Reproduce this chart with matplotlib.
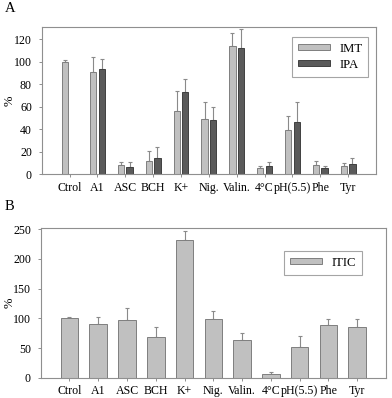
import numpy as np
import matplotlib
matplotlib.use("Agg")
import matplotlib.pyplot as plt

plt.rcParams['font.family'] = ['Liberation Serif', 'DejaVu Serif']

categories = ["Ctrol", "A1", "ASC", "BCH", "K+", "Nig.", "Valin.", "4°C", "pH(5.5)", "Phe", "Tyr"]

# Panel A
imt = [100, 91.3, 8.0, 12.1, 56.3, 49.2, 114.0, 5.3, 39.4, 8.3, 7.4]
imt_err = [2.0, 12.7, 3.3, 8.6, 17.7, 15.1, 11.3, 2.4, 12.7, 3.3, 2.6]
ipa = [np.nan, 93.3, 6.8, 14.8, 72.9, 48.3, 112.0, 7.7, 46.5, 5.3, 9.2]
ipa_err = [np.nan, 9.5, 3.9, 9.5, 11.5, 11.8, 17.2, 3.0, 17.8, 2.4, 5.3]

# Panel B
itic = [100, 91.0, 96.6, 69.1, 232.6, 98.3, 63.5, 6.2, 52.2, 88.2, 86.0]
itic_err = [1.7, 11.8, 20.3, 15.7, 14.4, 14.1, 11.2, 3.9, 17.5, 11.2, 13.4]

W, H = 392, 398
fig = plt.figure(figsize=(W / 100, H / 100), dpi=100)

light = "#c0c0c0"
dark = "#5a5a5a"
edge = "#7f7f7f"
spine_c = "#8f8f8f"
fs = 8.6

def style(ax):
    for s in ax.spines.values():
        s.set_color(spine_c)
        s.set_linewidth(0.8)
    ax.tick_params(axis='both', colors=spine_c, labelcolor='black', labelsize=fs,
                   width=0.7, direction='out')
    ax.tick_params(axis='x', length=2, pad=3.5)
    ax.tick_params(axis='y', length=2.5, pad=4.5)
    ax.set_xlim(-1, 11)
    ax.set_xticks(range(len(categories)))
    ax.set_xticklabels(categories)

def errs(ax, x, y, e):
    x = np.asarray(x, float); y = np.asarray(y, float); e = np.asarray(e, float)
    m = np.isfinite(y) & np.isfinite(e)
    ax.errorbar(x[m], y[m], yerr=[np.zeros(m.sum()), e[m]], fmt='none',
                ecolor="#8a8a8a", elinewidth=0.8, capsize=1.6, capthick=0.8, zorder=1)

# ---- Panel A ----
axA = fig.add_axes([41.7 / W, (H - 174.3) / H, (376 - 41.7) / W, (174.3 - 27.3) / H])
x = np.arange(len(categories))
bw = 0.225
off = 0.155
errs(axA, x - off, imt, imt_err)
errs(axA, x + off, ipa, ipa_err)
axA.bar(x - off, imt, bw, color=light, edgecolor=edge, linewidth=0.7, label="IMT", zorder=2)
axA.bar(x + off, ipa, bw, color=dark, edgecolor="#404040", linewidth=0.7, label="IPA", zorder=2)
axA.set_ylim(0, 130.7)
axA.set_yticks([0, 20, 40, 60, 80, 100, 120])
style(axA)
axA.set_ylabel("%", fontsize=fs + 0.5)
axA.yaxis.set_label_coords((16 - 41.7) / (376 - 41.7), 0.5)
legA = axA.legend(loc='upper right', bbox_to_anchor=(0.976, 0.932), borderaxespad=0,
                  fontsize=fs + 0.6, frameon=True, fancybox=False, handlelength=2.5,
                  handleheight=0.35, labelspacing=0.3, handletextpad=0.7,
                  borderpad=0.45)
legA.get_frame().set_edgecolor(spine_c)
legA.get_frame().set_linewidth(0.8)

# ---- Panel B ----
axB = fig.add_axes([40.7 / W, (H - 377.7) / H, (386 - 40.7) / W, (377.7 - 227.5) / H])
errs(axB, x, itic, itic_err)
axB.bar(x, itic, 0.61, color=light, edgecolor=edge, linewidth=0.7, label="ITIC", zorder=2)
axB.set_ylim(0, 253)
axB.set_yticks([0, 50, 100, 150, 200, 250])
style(axB)
axB.set_ylabel("%", fontsize=fs + 0.5)
axB.yaxis.set_label_coords((16 - 40.7) / (386 - 40.7), 0.5)
legB = axB.legend(loc='upper right', bbox_to_anchor=(0.931, 0.846), borderaxespad=0,
                  fontsize=fs + 0.6, frameon=True, fancybox=False, handlelength=2.5,
                  handleheight=0.35, handletextpad=0.7, borderpad=0.5)
legB.get_frame().set_edgecolor(spine_c)
legB.get_frame().set_linewidth(0.8)

fig.text(5 / W, 1 - 9 / H, "A", fontsize=10.5, va='center', ha='left')
fig.text(5 / W, 1 - 207 / H, "B", fontsize=10.5, va='center', ha='left')

fig.savefig("out.png", dpi=100)
